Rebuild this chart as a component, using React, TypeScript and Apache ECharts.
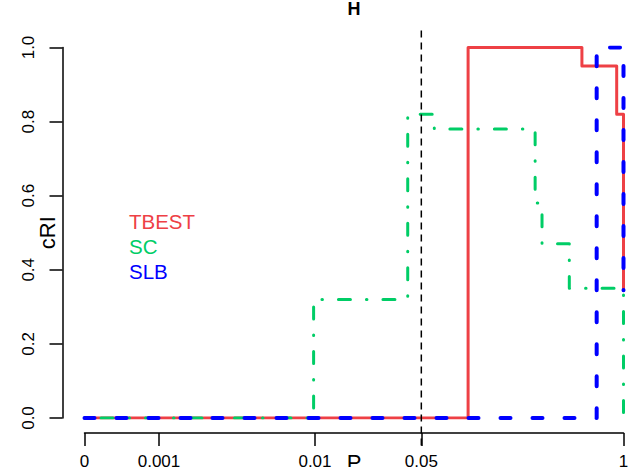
import React, { useEffect, useRef } from "react";
import * as echarts from "echarts";

// x-axis: tick values (P) and their labels
const tickP = [0, 0.001, 0.01, 0.05, 1];
const tickLabels = ["0", "0.001", "0.01", "0.05", "1"];
// relative axis position of each tick (scale definition of the custom P axis)
const tickScale = [0, 0.1382, 0.4276, 0.6249, 1];

// series: step breakpoints (P) and cRI values
const tbestP = [0, 0.1, 0.54, 0.904, 1];
const tbestV = [0, 1.0, 0.95, 0.82, 0.345];
const scP = [0, 0.0098, 0.0407, 0.0606, 0.27, 0.299, 0.448, 1];
const scV = [0, 0.32, 0.82, 0.78, 0.58, 0.47, 0.35, 0];
const slbP = [0, 0.672, 1];
const slbV = [0, 1.0, 0.345];

const refP = 0.05;
const yTicks = [0, 0.2, 0.4, 0.6, 0.8, 1.0];

const FONT = "'Liberation Sans', Arial, Helvetica, sans-serif";

function xT(p: number): number {
  for (let i = 0; i < tickP.length - 1; i++) {
    const a = tickP[i], b = tickP[i + 1];
    if (p <= b) {
      const sa = tickScale[i], sb = tickScale[i + 1];
      if (a === 0) return sa + ((p - a) / (b - a)) * (sb - sa);
      return sa + (Math.log10(p / a) / Math.log10(b / a)) * (sb - sa);
    }
  }
  return 1;
}

function pts(ps: number[], vs: number[]) {
  return ps.map((p, i) => [xT(p), vs[i]]);
}

export default function App() {
  const ref = useRef<HTMLDivElement>(null);
  useEffect(() => {
    if (!ref.current) return;
    const chart = echarts.init(ref.current, null, { renderer: "svg" });
    const tickPos = tickP.map(xT);
    const option: any = {
      animation: false,
      backgroundColor: "#ffffff",
      textStyle: { fontFamily: FONT },
      title: {
        text: "H",
        left: 354,
        top: 0,
        padding: 0,
        textAlign: "center",
        textStyle: { fontSize: 18, fontWeight: "bold", color: "#000", fontFamily: FONT },
      },
      legend: {
        orient: "vertical",
        left: 124,
        top: 211,
        padding: 0,
        itemGap: 4,
        itemWidth: 0,
        itemHeight: 20,
        icon: "rect",
        itemStyle: { opacity: 0 },
        lineStyle: { opacity: 0 },
        selectedMode: false,
        data: [
          { name: "TBEST", textStyle: { color: "#EE4045" } },
          { name: "SC", textStyle: { color: "#00CD66" } },
          { name: "SLB", textStyle: { color: "#0000FF" } },
        ],
        textStyle: { fontSize: 20.5, fontFamily: FONT },
      },
      grid: { left: 84.5, right: 10.5, top: 47.5, bottom: 49, containLabel: false, outerBoundsMode: "none" },
      xAxis: {
        type: "value",
        min: 0,
        max: 1,
        offset: 15,
        name: "P",
        nameLocation: "middle",
        nameGap: 18,
        nameMoveOverlap: false,
        nameTextStyle: { fontSize: 22, color: "#000", fontFamily: FONT, verticalAlign: "top" },
        axisLine: { onZero: false, lineStyle: { color: "#000", width: 1.5 } },
        axisTick: { show: true, length: 13, lineStyle: { color: "#000", width: 1.5 }, customValues: tickPos },
        axisLabel: {
          customValues: tickPos,
          margin: 20,
          fontSize: 17,
          color: "#000",
          fontFamily: FONT,
          formatter: (v: number) => {
            let best = 0;
            for (let i = 0; i < tickPos.length; i++) if (Math.abs(tickPos[i] - v) < Math.abs(tickPos[best] - v)) best = i;
            return tickLabels[best];
          },
        },
        splitLine: { show: false },
      },
      yAxis: {
        type: "value",
        min: 0,
        max: 1,
        interval: 0.2,
        offset: 22,
        name: "cRI",
        nameLocation: "middle",
        nameGap: 15,
        nameRotate: 90,
        nameMoveOverlap: false,
        nameTextStyle: { fontSize: 22, color: "#000", fontFamily: FONT, align: "center", verticalAlign: "middle" },
        axisLine: { show: true, onZero: false, lineStyle: { color: "#000", width: 1.5 } },
        axisTick: { show: true, length: 13, lineStyle: { color: "#000", width: 1.5 }, customValues: yTicks },
        axisLabel: {
          customValues: yTicks,
          rotate: 90,
          margin: 26,
          fontSize: 17,
          color: "#000",
          fontFamily: FONT,
          formatter: (v: number) => v.toFixed(1),
        },
        splitLine: { show: false },
      },
      series: [
        {
          name: "TBEST",
          type: "line",
          step: "end",
          symbol: "none",
          data: pts(tbestP, tbestV),
          lineStyle: { color: "#EE4045", width: 3, join: "round", cap: "round" },
          itemStyle: { color: "#EE4045" },
          z: 2,
        },
        {
          name: "SC",
          type: "line",
          step: "end",
          symbol: "none",
          data: pts(scP, scV),
          lineStyle: { color: "#00CD66", width: 3, type: [0.5, 16, 12, 16], cap: "round", join: "round" },
          itemStyle: { color: "#00CD66" },
          z: 3,
        },
        {
          name: "SLB",
          type: "line",
          step: "end",
          symbol: "none",
          data: pts(slbP, slbV),
          lineStyle: { color: "#0000FF", width: 4, type: [10, 22], cap: "round", join: "round" },
          itemStyle: { color: "#0000FF" },
          z: 4,
        },
      ],
    };
    chart.setOption(option);
    const top = chart.convertToPixel({ gridIndex: 0 }, [xT(refP), 1]) as number[];
    const bot = chart.convertToPixel({ gridIndex: 0 }, [xT(refP), 0]) as number[];
    chart.setOption({
      graphic: [
        {
          type: "line",
          z: 10,
          shape: { x1: top[0], y1: top[1] - 17, x2: bot[0], y2: bot[1] + 32 },
          style: { stroke: "#000", lineWidth: 1.5, lineDash: [7, 5] },
        },
      ],
    });
    return () => chart.dispose();
  }, []);
  return <div ref={ref} style={{ position: "fixed", left: 0, top: 0, width: 634, height: 467 }} />;
}
